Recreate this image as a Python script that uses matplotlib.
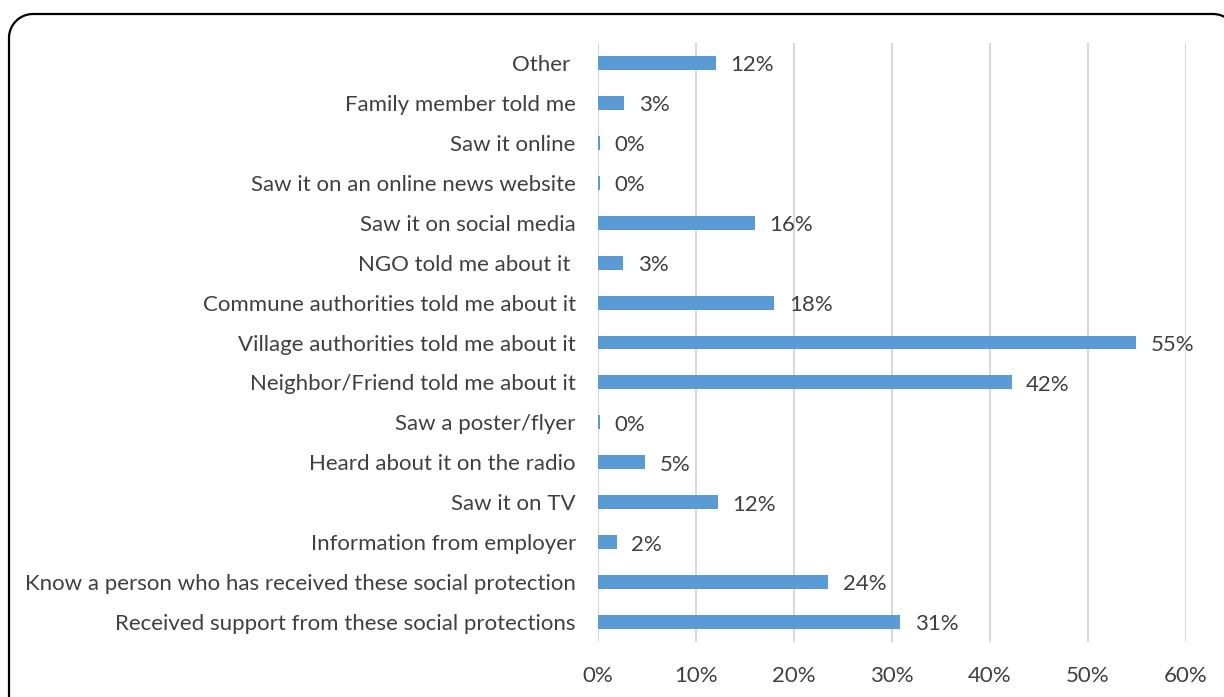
import numpy as np
import matplotlib.pyplot as plt
from matplotlib.lines import Line2D
from matplotlib.ticker import FuncFormatter

# answers, bottom to top as drawn
categories = [
    "Received support from these social protections",
    "Know a person who has received these social protection",
    "Information from employer",
    "Saw it on TV",
    "Heard about it on the radio",
    "Saw a poster/flyer",
    "Neighbor/Friend told me about it",
    "Village authorities told me about it",
    "Commune authorities told me about it",
    "NGO told me about it ",
    "Saw it on social media",
    "Saw it on an online news website",
    "Saw it online",
    "Family member told me",
    "Other ",
]
shares = [30.8, 23.5, 1.9, 12.2, 4.8, 0.2, 42.2, 54.9, 18.0, 2.6, 16.0, 0.2, 0.2, 2.7, 12.0]
ticks = [0, 10, 20, 30, 40, 50, 60]

plt.rcParams['font.family'] = ['Lato', 'DejaVu Sans']
text_color = '#404040'
fsize = 16

fig = plt.figure(figsize=(12.24, 6.97), dpi=100)
ax = fig.add_axes([598 / 1224, 1 - 642 / 697, 588 / 1224, 599 / 697])

y = list(range(len(categories)))
ax.barh(y, shares, height=0.35, color='#5B9BD5', zorder=3)
for yi, v in zip(y, shares):
    ax.text(v + 1.5, yi - 0.06, "{:.0f}%".format(v), va='center', ha='left',
            fontsize=fsize, color=text_color)

ax.set_xlim(0, 60)
ax.set_ylim(-0.5, len(categories) - 0.5)
ax.set_xticks(ticks)
ax.xaxis.set_major_formatter(FuncFormatter(lambda v, p: "{:.0f}%".format(v)))
ax.set_yticks(y)
ax.set_yticklabels(categories)
ax.tick_params(axis='both', length=0, labelsize=fsize, labelcolor=text_color)
ax.tick_params(axis='y', pad=16)
ax.tick_params(axis='x', pad=17)
ax.grid(axis='x', color='#D9D9D9', linewidth=1.5, zorder=0)
for s in ax.spines.values():
    s.set_visible(False)


# rounded outer frame as a polyline (in inches), running past the canvas edge
def rounded_rect(x0, y0, x1, y1, r, n=30):
    pts = []
    corners = [(x1 - r, y1 - r, 0), (x0 + r, y1 - r, 90),
               (x0 + r, y0 + r, 180), (x1 - r, y0 + r, 270)]
    for cx, cy, a0 in corners:
        t = np.radians(np.linspace(a0, a0 + 90, n))
        pts.extend(zip(cx + r * np.cos(t), cy + r * np.sin(t)))
    pts.append(pts[0])
    return np.array(pts)


box = rounded_rect(0.09, -0.40, 12.37, 6.83, 0.24)
fig.add_artist(Line2D(box[:, 0], box[:, 1], transform=fig.dpi_scale_trans,
                      color='black', linewidth=1.6, clip_on=False))

plt.savefig('out.png', dpi=100)
